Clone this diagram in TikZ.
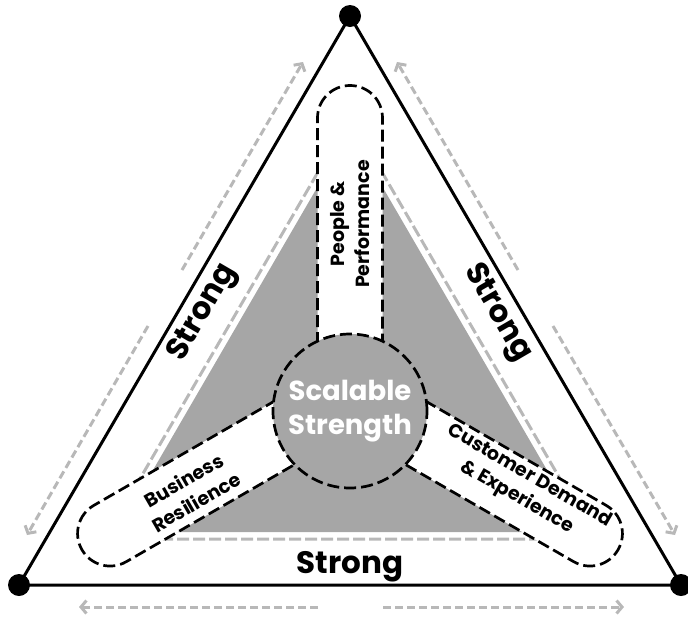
\documentclass[tikz,border=0pt]{standalone}
\usepackage{fontspec}
\setmainfont{Poppins}
\usetikzlibrary{arrows.meta}
\definecolor{fillgray}{HTML}{A6A6A6}
\definecolor{linegray}{HTML}{B8B8B8}
\begin{document}
\begin{tikzpicture}[x=1pt,y=-1pt,
  outer/.style={line width=3pt, line join=miter},
  flowarrow/.style={draw=linegray, line width=3pt, dash pattern=on 8pt off 4pt,
    -{Straight Barb[length=5.5pt,width=13pt,line width=3pt]}},
  innerdash/.style={draw=linegray, line width=3pt, dash pattern=on 12pt off 4pt},
  pill/.style={draw=black, fill=white, line width=2.7pt, dash pattern=on 12pt off 5pt, rounded corners=32.4pt},
  hub/.style={circle, draw=black, fill=fillgray, line width=2.7pt, dash pattern=on 12pt off 5pt,
    minimum size=154pt, inner sep=0pt, text=white, align=center,
    font=\bfseries\fontsize{27.5}{34}\selectfont},
  strong/.style={font=\bfseries\fontsize{31}{33}\selectfont},
  pilltext/.style={font=\bfseries\fontsize{19}{25}\selectfont, align=center},
  vertexdot/.style={circle, fill=black, minimum size=22pt, inner sep=0pt}
]
\useasboundingbox (0,0) rectangle (688,619);

% outer vertices
\coordinate (T) at (350,16);
\coordinate (L) at (19,585);
\coordinate (R) at (681,585);

% flow arrows outside the triangle
\coordinate (la1) at (182,270); \coordinate (la2) at (303,62);
\coordinate (lb1) at (148,326); \coordinate (lb2) at (27,535);
\coordinate (ra1) at (518,270); \coordinate (ra2) at (397,62);
\coordinate (rb1) at (553,326); \coordinate (rb2) at (675,535);
\coordinate (ba1) at (318,607); \coordinate (ba2) at (79,607);
\coordinate (bb1) at (383,607); \coordinate (bb2) at (624,607);
\draw[flowarrow] (la1) -- (la2);
\draw[flowarrow] (lb1) -- (lb2);
\draw[flowarrow] (ra1) -- (ra2);
\draw[flowarrow] (rb1) -- (rb2);
\draw[flowarrow] (ba1) -- (ba2);
\draw[flowarrow] (bb1) -- (bb2);

% outer triangle
\draw[outer] (T) -- (L) -- (R) -- cycle;

% inner gray triangle and its dashed outline
\coordinate (gT) at (350,131);
\coordinate (gL) at (117,532);
\coordinate (gR) at (583,532);
\fill[fillgray] (gT) -- (gL) -- (gR) -- cycle;
\coordinate (dT) at (350,117);
\coordinate (dL) at (105,539);
\coordinate (dR) at (595,539);
\draw[innerdash] (dT) -- (dL) -- (dR) -- cycle;

% pills
\begin{scope}[shift={(350,395)}, rotate=90]
  \draw[pill] (0,-32.5) rectangle (309.5,32.5);
\end{scope}
\begin{scope}[shift={(350,395)}, rotate=210]
  \draw[pill] (0,-32.5) rectangle (309.5,32.5);
\end{scope}
\begin{scope}[shift={(350,395)}, rotate=-30]
  \draw[pill] (0,-32.5) rectangle (309.5,32.5);
\end{scope}

% hub
\node[hub] (hub) at (350,411) {Scalable\\Strength};

% texts
\node[pilltext, rotate=90] (ppl) at (350,224) {People \&\\Performance};
\node[pilltext, rotate=30] (bus) at (190,491) {Business\\Resilience};
\node[pilltext, rotate=-30] (cus) at (523,487) {Customer Demand\\\& Experience};

\node[strong, rotate=59.8] (sl) at (203,313) {Strong};
\node[strong, rotate=-59.8] (sr) at (497,313) {Strong};
\node[strong] (sb) at (350,567) {Strong};

% vertex dots
\node[vertexdot] (dotT) at (T) {};
\node[vertexdot] (dotL) at (L) {};
\node[vertexdot] (dotR) at (R) {};
\end{tikzpicture}
\end{document}
